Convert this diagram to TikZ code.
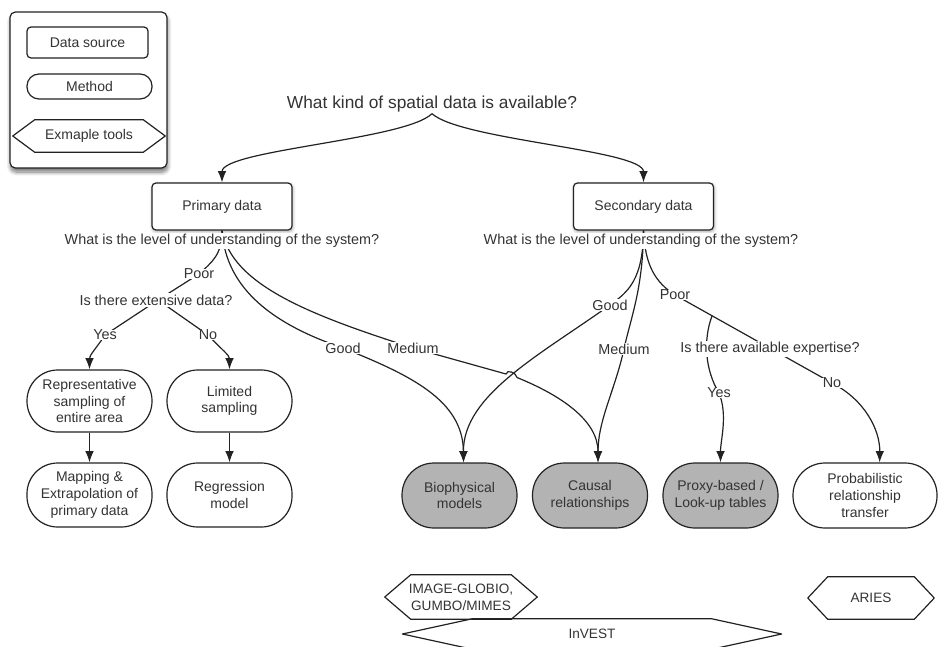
\documentclass[tikz,border=0pt]{standalone}
\usepackage{fontspec}
\setmainfont{Liberation Sans}
\usetikzlibrary{arrows.meta,calc,shadows.blur}
\pgfdeclarelayer{background}
\pgfsetlayers{background,main}

\definecolor{ink}{HTML}{222222}
\definecolor{txt}{HTML}{333333}
\definecolor{boxgray}{HTML}{B3B3B3}

\tikzset{
  base/.style={draw=ink, line width=0.9pt, text=txt, align=center, inner sep=0pt,
    font=\fontsize{10.5}{12.5}\selectfont},
  softshadow/.style={blur shadow={shadow xshift=0.5pt, shadow yshift=-1.2pt,
    shadow blur steps=6, shadow blur radius=2.5pt, shadow opacity=35}},
  datasrc/.style={base, fill=white, rounded corners=3pt,
    minimum width=105pt, minimum height=35.25pt, softshadow},
  method/.style={base, fill=white, rounded corners=23pt,
    minimum width=93.75pt, minimum height=46.5pt},
  model/.style={method, fill=boxgray, rounded corners=24pt,
    minimum width=86.25pt, minimum height=48.75pt},
  question/.style={text=txt, fill=white, inner sep=1pt,
    font=\fontsize{10.8}{13}\selectfont},
  choice/.style={question, inner sep=0.3pt},
  toolbox/.style={text=txt, align=center, inner sep=0pt,
    font=\fontsize{10.2}{12.5}\selectfont},
  link/.style={draw=ink, line width=0.9pt},
  arrow/.style={link, -{Latex[length=8.5pt,width=6.5pt]}},
  hexline/.style={draw=ink, line width=0.9pt, line join=round},
}

% hexagonal outline around a tool node; #2 is the depth of the side points
\newcommand\hexoutline[2]{%
  \draw[hexline] (#1.west) -- ($(#1.north west)+(#2,0)$) -- ($(#1.north east)+(-#2,0)$)
    -- (#1.east) -- ($(#1.south east)+(-#2,0)$) -- ($(#1.south west)+(#2,0)$) -- cycle;}

\begin{document}
\begin{tikzpicture}[x=0.75pt, y=0.75pt]
\useasboundingbox (0,0) rectangle (938,-646);

% ---------- legend ----------
\node[base, fill=white, rounded corners=4pt, minimum width=117.75pt, minimum height=117pt,
  blur shadow={shadow xshift=0.5pt, shadow yshift=-3pt, shadow blur steps=8,
  shadow blur radius=3pt, shadow opacity=55}] (legend) at (88.5,-90) {};
\node[base, fill=white, rounded corners=3pt, minimum width=90.75pt, minimum height=23.25pt]
  (lgsrc) at (87.5,-42.5) {Data source};
\node[base, fill=white, rounded corners=9pt, minimum width=93.75pt, minimum height=18.75pt]
  (lgmeth) at (89.5,-86.5) {Method};
\node[toolbox, font=\fontsize{10.5}{12.5}\selectfont, minimum width=114pt, minimum height=24pt]
  (lgtool) at (89,-136) {Exmaple tools};
\hexoutline{lgtool}{22}

% ---------- top question and data sources ----------
\node[question, font=\fontsize{13}{15}\selectfont] (title) at (432,-104)
  {What kind of spatial data is available?};
\node[datasrc] (prim) at (222,-206.5) {Primary data};
\node[datasrc] (sec) at (643.5,-206.5) {Secondary data};

\node[question] (ql) at (222,-241) {What is the level of understanding of the system?};
\node[question] (qr) at (641,-241) {What is the level of understanding of the system?};

% ---------- branch labels ----------
\node[choice] (poorL) at (199,-274) {Poor};
\node[question] (ext) at (156,-300) {Is there extensive data?};
\node[choice] (yesL) at (105,-335) {Yes};
\node[choice] (noL) at (208,-335) {No};
\node[choice] (goodL) at (343,-348) {Good};
\node[choice] (medL) at (413,-348) {Medium};

\node[choice] (goodR) at (610,-305) {Good};
\node[choice] (medR) at (624,-349) {Medium};
\node[choice] (poorR) at (675,-295) {Poor};
\node[question] (expert) at (770,-349) {Is there available expertise?};
\node[choice] (yesR) at (719,-393) {Yes};
\node[choice] (noR) at (832,-383) {No};

\coordinate (extj) at (158,-300);
\coordinate (yesJ) at ($(poorR.center)!0.236!(noR.center)$);
\coordinate (jA) at (506,-374);
\coordinate (jB) at (517,-377.5);

% ---------- methods ----------
\node[method] (rep) at (89.5,-401) {Representative\\sampling of\\entire area};
\node[method] (lim) at (229.5,-401) {Limited\\sampling};
\node[method, minimum height=48pt] (mapn) at (89.5,-495) {Mapping \&\\Extrapolation of\\primary data};
\node[method, minimum height=48pt] (reg) at (229.5,-495) {Regression\\model};

\node[model] (bio) at (459.5,-495.5) {Biophysical\\models};
\node[model] (causal) at (590,-495.5) {Causal\\relationships};
\node[model] (proxy) at (720.5,-495.5) {Proxy-based /\\Look-up tables};
\node[method, minimum width=108pt, minimum height=48.75pt, rounded corners=24pt]
  (prob) at (865,-495.5) {Probabilistic\\relationship\\transfer};

% ---------- example tools ----------
\node[toolbox, minimum width=114pt, minimum height=33pt] (globio) at (461,-597)
  {IMAGE-GLOBIO,\\GUMBO/MIMES};
\hexoutline{globio}{26}
\node[toolbox, minimum width=284pt, minimum height=22.5pt] (invest) at (592,-634) {InVEST};
\hexoutline{invest}{70}
\node[toolbox, minimum width=94.5pt, minimum height=31.5pt] (aries) at (871,-598) {ARIES};
\hexoutline{aries}{20}

% ---------- connectors ----------
\begin{pgfonlayer}{background}
  \draw[arrow] (title.south) .. controls (405,-140) and (222,-150) .. (prim.north);
  \draw[arrow] (title.south) .. controls (461,-140) and (643.5,-150) .. (sec.north);

  % primary data, poor understanding
  \draw[link] (prim.south) .. controls (222,-255) and (212,-262) .. (poorL.center) -- (extj);
  \draw[link] (extj) -- (yesL.center);
  \draw[arrow] (yesL.center) .. controls (95,-350) and (89.5,-355) .. (rep.north);
  \draw[link] (extj) -- (noL.center);
  \draw[arrow] (noL.center) .. controls (222,-350) and (229.5,-355) .. (lim.north);
  \draw[arrow] (rep) -- (mapn);
  \draw[arrow] (lim) -- (reg);

  % primary data, good and medium understanding
  \draw[link] (prim.south) .. controls (226,-290) and (275,-325) .. (goodL.center);
  \draw[arrow] (goodL.center) .. controls (410,-375) and (463,-400) .. ([xshift=3pt]bio.north);
  \draw[link] (prim.south) .. controls (232,-285) and (310,-315) .. (medL.center) -- (jA)
    .. controls +(1,5) and +(-1,5) .. (jB);
  \draw[arrow] (jB) .. controls (560,-395) and (598,-420) .. ([xshift=6pt]causal.north);

  % secondary data
  \draw[link] (sec.south) .. controls (643,-280) and (628,-292) .. (goodR.center);
  \draw[arrow] (goodR.center) .. controls (540,-355) and (463,-395) .. ([xshift=3pt]bio.north);
  \draw[arrow] (sec.south) .. controls (643,-290) and (630,-320) .. (medR.center)
    .. controls (615,-390) and (598,-420) .. ([xshift=6pt]causal.north);
  \draw[link] (sec.south) .. controls (645,-265) and (655,-282) .. (poorR.center) -- (noR.center);
  \draw[link] (yesJ) .. controls (703,-340) and (705,-370) .. (yesR.center);
  \draw[arrow] (yesR.center) .. controls (728,-415) and (720.5,-440) .. (proxy.north);
  \draw[arrow] (noR.center) .. controls (865,-400) and (880,-430) .. ([xshift=11pt]prob.north);
\end{pgfonlayer}
\end{tikzpicture}
\end{document}
